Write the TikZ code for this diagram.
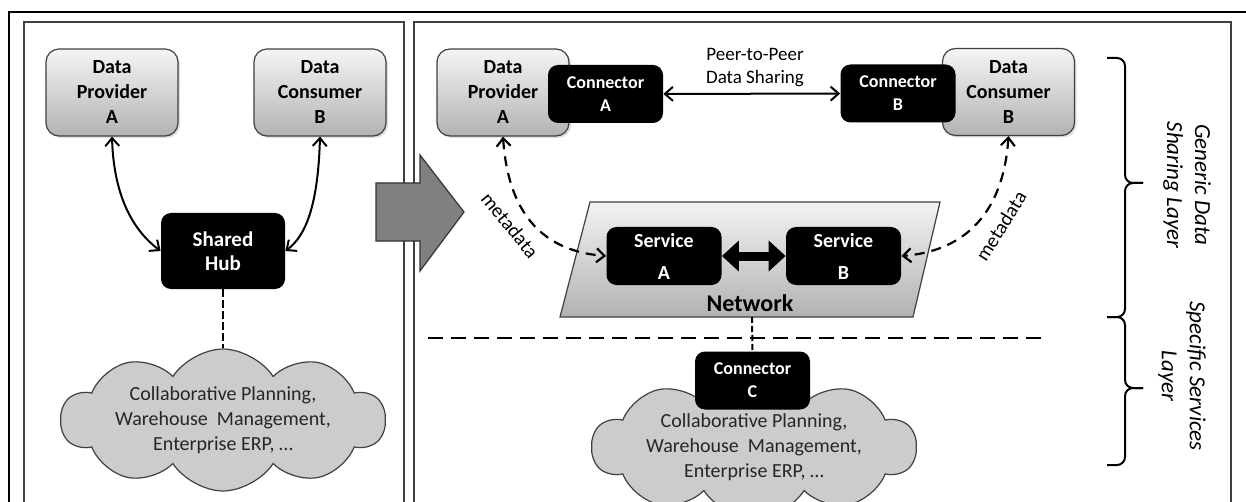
\documentclass[tikz,border=0pt]{standalone}
\usepackage{fontspec}
\setmainfont{Carlito}
\usetikzlibrary{shapes.symbols,arrows.meta,shadows}

\begin{document}
\begin{tikzpicture}[x=0.5pt,y=-0.5pt,
  >={Straight Barb[length=4pt,width=7pt]},
  gbox/.style={draw=black!75,line width=.6pt,rounded corners=6.5pt,top color=black!4,bottom color=black!30,
    minimum width=66pt,minimum height=43.5pt,inner sep=1pt,align=center,
    font=\bfseries\fontsize{10}{12.5}\selectfont,
    drop shadow={opacity=.25,shadow xshift=1pt,shadow yshift=-1pt}},
  bbox/.style={fill=black,text=white,rounded corners=5pt,minimum width=57.5pt,minimum height=29pt,
    inner sep=1pt,align=center,font=\bfseries\fontsize{9}{11.5}\selectfont},
  cld/.style={cloud,cloud puffs=10,cloud puff arc=115,cloud ignores aspect,draw=black!75,line width=.6pt,
    fill=black!20,text=black!85,align=center,inner sep=0pt,font=\fontsize{10}{12.5}\selectfont},
  dsh/.style={dash pattern=on 5pt off 3.5pt,line width=1.1pt},
  mdt/.style={font=\fontsize{10}{12}\selectfont},
  brc/.style={line width=1pt,rounded corners=4pt},
  lbl/.style={font=\itshape\fontsize{11.5}{14}\selectfont,align=center,rotate=-90}]
\clip (0,0) rectangle (1246,502);
\draw[line width=1pt] (9,520)--(9,12)--(1260,12);
\draw[black!75,line width=1pt] (24,520)--(24,22)--(404,22)--(404,520);
\draw[black!75,line width=1pt] (414,520)--(414,22)--(1231,22)--(1231,520);

\node[gbox] (lpa) at (112,92.5) {Data\\Provider\\A};
\node[gbox] (lcb) at (320,92.5) {Data\\Consumer\\B};
\node[bbox,minimum width=62pt,minimum height=38pt,font=\bfseries\fontsize{10.5}{12}\selectfont] (hub) at (223,251) {Shared\\Hub};
\node[cld,minimum width=162pt,minimum height=44pt] (lcld) at (223,420) {Collaborative Planning,\\Warehouse~ Management,\\Enterprise ERP, …};
\draw[<->,line width=1pt] (lpa.south) .. controls +(2,70) and +(-20,-15) .. (hub.west);
\draw[<->,line width=1pt] (lcb.south) .. controls +(-2,70) and +(20,-15) .. (hub.east);
\draw[line width=1.4pt,dash pattern=on 4pt off 1.5pt] (hub.south) -- (lcld.north);

\filldraw[fill=black!50,draw=black!80,line width=.6pt] (376,183)--(420,183)--(420,155)--(464,212)--(420,271)--(420,241)--(376,241)--cycle;

\node[gbox] (rpa) at (503,92.5) {Data\\Provider\\A};
\node[bbox] (cona) at (605.5,94) {Connector\\A};
\node[gbox] (rcb) at (1008.5,92) {Data\\Consumer\\B};
\node[bbox] (conb) at (898,93.5) {Connector\\B};
\node[font=\fontsize{9.5}{11.5}\selectfont,align=center] (p2p) at (755,68) {Peer-to-Peer\\Data Sharing};
\draw[<->,line width=1pt] (cona) -- (conb);

\draw[draw=black!75,line width=.6pt,top color=black!5,bottom color=black!30] (560,317)--(913,317)--(940,202)--(590,202)--cycle;
\coordinate (netb) at (752,317);
\node[bbox,font=\bfseries\fontsize{10}{16}\selectfont] (sa) at (664,256) {Service\\A};
\node[bbox,font=\bfseries\fontsize{10}{16}\selectfont] (sb) at (843.5,256) {Service\\B};
\node[font=\bfseries\fontsize{12}{14}\selectfont] (net) at (750,303) {Network};
\draw[line width=4.5pt,{Triangle[length=8.5pt,width=15pt]}-{Triangle[length=8.5pt,width=15pt]}] (sa) -- (sb);

\draw[dsh,<->] (rpa.south) .. controls +(5,75) and +(-65,-5) .. (sa.west);
\draw[dsh,<->] (rcb.south) .. controls +(-5,75) and +(65,-5) .. (sb.east);
\node[mdt,rotate=-51] (mda) at (510,225) {metadata};
\node[mdt,rotate=58] (mdb) at (1001,226) {metadata};

\draw[dash pattern=on 7.5pt off 4pt,line width=1.2pt] (428,338) -- (1048,338);
\node[cld,minimum width=162pt,minimum height=40pt] (rcld) at (754,447) {Collaborative Planning,\\Warehouse~ Management,\\Enterprise ERP, …};
\node[bbox] (conc) at (752.5,380.5) {Connector\\C};
\draw[line width=1pt,dash pattern=on 3pt off 1.5pt] (netb) -- (conc.north);

\draw[brc] (1107,58) -- (1125,58) -- (1125,183) -- (1143,183);
\draw[brc] (1143,183) -- (1125,183) -- (1125,317) -- (1107,317);
\draw[brc] (1107,317) -- (1125,317) -- (1125,388) -- (1143,388);
\draw[brc] (1143,388) -- (1125,388) -- (1125,465) -- (1107,465);
\node[lbl] (gdsl) at (1187,185) {Generic Data\\Sharing Layer};
\node[lbl] (ssl) at (1182,376) {Specific Services\\Layer};
\end{tikzpicture}
\end{document}
